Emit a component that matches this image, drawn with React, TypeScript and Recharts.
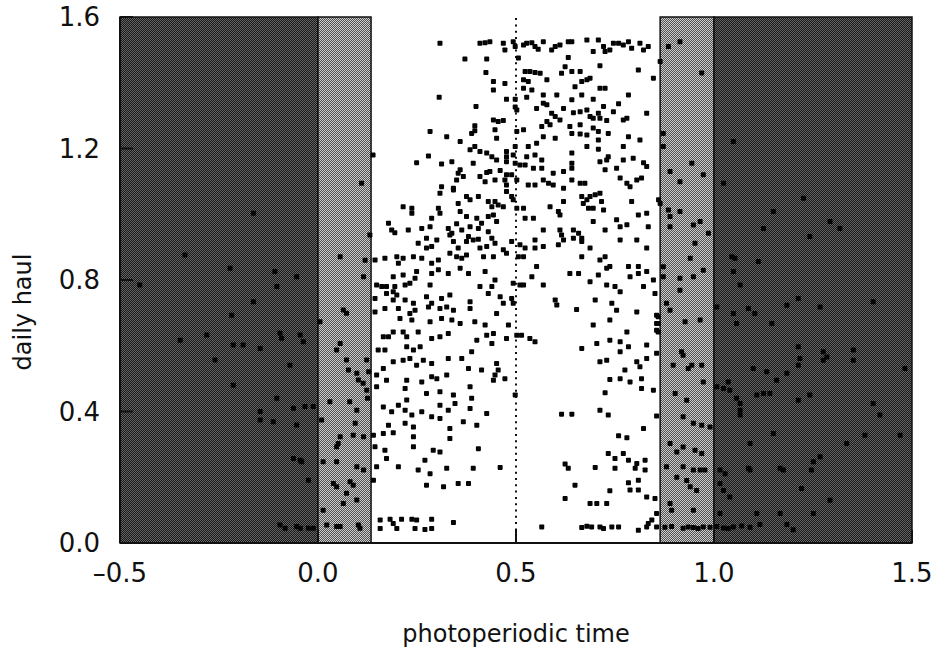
import {
  Label,
  ReferenceArea,
  ReferenceLine,
  Scatter,
  ScatterChart,
  XAxis,
  YAxis
} from "recharts";

type Pt = [number, number];

const xTicks = [-0.5, 0, 0.5, 1, 1.5];
const xTickLabels = ["–0.5", "0.0", "0.5", "1.0", "1.5"];
const yTicks = [0, 0.4, 0.8, 1.2, 1.6];
const yTickLabels = ["0.0", "0.4", "0.8", "1.2", "1.6"];

// light regime: night | twilight | day | twilight | night
const bandEdges = [-0.5, 0, 0.134, 0.864, 1.0, 1.5];
const bandKinds = ["night", "twilight", "day", "twilight", "night"];

const nightBefore: Pt[] = [
  [-0.163, 1.003], [-0.336, 0.876], [-0.222, 0.836], [-0.109, 0.826], [-0.054, 0.81],
  [-0.45, 0.785], [-0.104, 0.78], [-0.163, 0.734], [-0.218, 0.693], [-0.348, 0.617],
  [-0.281, 0.633], [-0.214, 0.602], [-0.189, 0.602], [-0.146, 0.592], [-0.096, 0.638],
  [-0.092, 0.623], [-0.045, 0.633], [-0.037, 0.612], [-0.26, 0.557], [-0.071, 0.541],
  [-0.214, 0.48], [-0.104, 0.44], [-0.146, 0.4], [-0.146, 0.374], [-0.062, 0.41],
  [-0.033, 0.415], [-0.012, 0.415], [-0.113, 0.369], [-0.054, 0.359], [-0.062, 0.257],
  [-0.045, 0.252], [-0.041, 0.247], [-0.024, 0.191], [-0.096, 0.055], [-0.083, 0.045],
  [-0.054, 0.05], [-0.045, 0.045], [-0.024, 0.045], [-0.012, 0.045]
];

const dawn: Pt[] = [
  [0.11, 1.094], [0.131, 0.937], [0.056, 0.871], [0.119, 0.86], [0.115, 0.81],
  [0.064, 0.709], [0.072, 0.699], [0.056, 0.607], [0.047, 0.587], [0.072, 0.557],
  [0.077, 0.526], [0.098, 0.516], [0.102, 0.496], [0.114, 0.486], [0.005, 0.673],
  [0.03, 0.43], [0.08, 0.43], [0.098, 0.404], [0.009, 0.374], [0.094, 0.364],
  [0.056, 0.323], [0.051, 0.303], [0.047, 0.293], [0.089, 0.328], [0.115, 0.323],
  [0.013, 0.247], [0.047, 0.247], [0.098, 0.232], [0.115, 0.222], [0.039, 0.181],
  [0.047, 0.171], [0.081, 0.186], [0.089, 0.176], [0.072, 0.151], [0.098, 0.131],
  [0.064, 0.12], [0.013, 0.1], [0.022, 0.055], [0.047, 0.05], [0.056, 0.05],
  [0.102, 0.055], [0.106, 0.045], [0.123, 0.557], [0.128, 0.521], [0.123, 0.465],
  [0.125, 0.44]
];

const day: Pt[] = [
  [0.139, 1.18],
  [0.308, 1.52], [0.409, 1.52], [0.422, 1.522], [0.434, 1.525], [0.468, 1.52],
  [0.472, 1.5], [0.493, 1.525], [0.498, 1.51], [0.519, 1.515], [0.527, 1.52],
  [0.54, 1.522], [0.548, 1.51], [0.556, 1.502], [0.569, 1.525], [0.59, 1.5],
  [0.599, 1.51], [0.611, 1.515], [0.632, 1.525], [0.641, 1.525], [0.679, 1.53],
  [0.695, 1.495], [0.708, 1.53], [0.721, 1.51], [0.725, 1.495], [0.737, 1.5],
  [0.746, 1.52], [0.759, 1.52], [0.771, 1.515], [0.784, 1.525], [0.792, 1.505],
  [0.813, 1.52], [0.822, 1.5], [0.834, 1.51],
  [0.371, 1.472], [0.426, 1.472], [0.506, 1.475], [0.632, 1.477],
  [0.712, 1.452], [0.809, 1.439], [0.847, 1.414], [0.523, 1.434], [0.535, 1.434],
  [0.548, 1.431], [0.561, 1.429], [0.615, 1.429], [0.624, 1.449], [0.641, 1.434],
  [0.662, 1.434], [0.424, 1.431],
  [0.443, 1.404], [0.472, 1.398], [0.519, 1.409], [0.531, 1.404], [0.578, 1.409],
  [0.649, 1.388], [0.666, 1.404], [0.687, 1.414], [0.679, 1.409], [0.712, 1.383],
  [0.725, 1.383], [0.443, 1.378], [0.519, 1.383], [0.54, 1.378],
  [0.306, 1.356], [0.476, 1.35], [0.498, 1.35], [0.527, 1.356], [0.569, 1.363],
  [0.603, 1.363], [0.641, 1.348], [0.666, 1.363], [0.695, 1.35], [0.784, 1.363],
  [0.399, 1.328], [0.498, 1.326], [0.502, 1.317], [0.552, 1.322], [0.569, 1.338],
  [0.578, 1.333], [0.59, 1.307], [0.62, 1.322], [0.645, 1.309], [0.662, 1.312],
  [0.679, 1.317], [0.708, 1.307], [0.721, 1.328], [0.746, 1.312], [0.759, 1.336],
  [0.83, 1.307],
  [0.396, 1.269], [0.443, 1.287], [0.455, 1.282], [0.468, 1.285], [0.599, 1.297],
  [0.578, 1.282], [0.586, 1.272], [0.565, 1.267], [0.611, 1.287], [0.687, 1.297],
  [0.695, 1.292], [0.712, 1.292], [0.771, 1.287], [0.78, 1.292], [0.662, 1.272],
  [0.729, 1.285],
  [0.283, 1.252], [0.325, 1.236], [0.359, 1.221], [0.388, 1.246], [0.396, 1.254],
  [0.447, 1.257], [0.451, 1.231], [0.502, 1.252], [0.519, 1.257], [0.569, 1.236],
  [0.599, 1.231], [0.641, 1.246], [0.662, 1.244], [0.679, 1.241], [0.695, 1.262],
  [0.708, 1.252], [0.708, 1.226], [0.733, 1.246], [0.784, 1.236], [0.813, 1.226],
  [0.636, 1.267],
  [0.279, 1.177], [0.249, 1.157], [0.384, 1.196], [0.396, 1.206], [0.409, 1.191],
  [0.426, 1.186], [0.439, 1.175], [0.451, 1.165], [0.476, 1.191], [0.476, 1.175],
  [0.493, 1.18], [0.498, 1.206], [0.531, 1.206], [0.552, 1.216], [0.527, 1.175],
  [0.548, 1.18], [0.565, 1.165], [0.641, 1.186], [0.679, 1.206], [0.708, 1.198],
  [0.733, 1.175], [0.771, 1.206], [0.796, 1.17], [0.822, 1.157], [0.83, 1.145],
  [0.312, 1.153], [0.338, 1.16], [0.392, 1.155], [0.476, 1.16], [0.498, 1.155],
  [0.51, 1.15], [0.523, 1.15], [0.544, 1.14], [0.565, 1.14], [0.594, 1.125],
  [0.62, 1.13], [0.641, 1.155], [0.641, 1.14], [0.712, 1.16], [0.729, 1.165],
  [0.725, 1.135], [0.754, 1.14], [0.771, 1.165], [0.359, 1.135], [0.354, 1.125],
  [0.426, 1.127], [0.434, 1.13], [0.46, 1.133], [0.476, 1.12], [0.489, 1.12],
  [0.312, 1.084], [0.35, 1.104], [0.342, 1.079], [0.367, 1.115], [0.409, 1.115],
  [0.422, 1.099], [0.447, 1.104], [0.472, 1.104], [0.476, 1.089], [0.502, 1.104],
  [0.531, 1.089], [0.548, 1.089], [0.569, 1.104], [0.582, 1.094], [0.594, 1.089],
  [0.62, 1.079], [0.641, 1.104], [0.662, 1.094], [0.674, 1.094], [0.763, 1.11],
  [0.78, 1.094], [0.805, 1.104], [0.817, 1.11], [0.788, 1.084],
  [0.308, 1.064], [0.342, 1.074], [0.375, 1.054], [0.384, 1.044], [0.405, 1.054],
  [0.43, 1.039], [0.447, 1.039], [0.476, 1.069], [0.489, 1.054], [0.493, 1.044],
  [0.354, 1.033], [0.439, 1.023], [0.455, 1.028], [0.468, 1.023], [0.502, 1.018],
  [0.519, 1.018], [0.586, 1.023], [0.607, 1.008], [0.62, 1.039], [0.666, 1.054],
  [0.679, 1.044], [0.687, 1.054], [0.7, 1.059], [0.712, 1.064], [0.67, 1.033],
  [0.716, 1.039], [0.792, 1.039], [0.86, 1.044],
  [0.215, 1.023], [0.237, 1.018], [0.237, 1.003], [0.304, 1.018], [0.308, 1.003],
  [0.359, 1.008], [0.375, 0.993], [0.401, 0.988], [0.43, 0.993], [0.443, 0.998],
  [0.451, 0.978], [0.523, 0.988], [0.544, 0.988], [0.611, 0.998], [0.683, 1.018],
  [0.695, 1.018], [0.721, 1.013], [0.754, 0.983], [0.809, 0.998], [0.83, 1.003],
  [0.287, 0.988],
  [0.178, 0.973], [0.186, 0.952], [0.194, 0.944], [0.228, 0.952], [0.262, 0.957],
  [0.283, 0.962], [0.329, 0.957], [0.338, 0.942], [0.35, 0.971], [0.363, 0.952],
  [0.384, 0.962], [0.405, 0.957], [0.413, 0.973], [0.43, 0.947], [0.569, 0.952],
  [0.611, 0.952], [0.615, 0.937], [0.645, 0.952], [0.658, 0.942], [0.695, 0.978],
  [0.725, 0.952], [0.763, 0.962], [0.78, 0.968], [0.834, 0.962], [0.274, 0.927],
  [0.3, 0.922], [0.333, 0.937], [0.38, 0.932], [0.392, 0.922], [0.405, 0.924],
  [0.439, 0.927], [0.447, 0.912],
  [0.253, 0.912], [0.274, 0.897], [0.287, 0.902], [0.342, 0.917], [0.354, 0.897],
  [0.375, 0.917], [0.409, 0.897], [0.426, 0.902], [0.468, 0.892], [0.476, 0.881],
  [0.489, 0.917], [0.51, 0.907], [0.523, 0.897], [0.548, 0.922], [0.548, 0.897],
  [0.569, 0.902], [0.607, 0.907], [0.62, 0.922], [0.645, 0.927], [0.666, 0.927],
  [0.666, 0.917], [0.687, 0.897], [0.763, 0.922], [0.805, 0.922], [0.83, 0.897],
  [0.144, 0.861], [0.169, 0.866], [0.199, 0.871], [0.203, 0.851], [0.215, 0.866],
  [0.241, 0.871], [0.262, 0.866], [0.287, 0.851], [0.304, 0.861], [0.333, 0.881],
  [0.35, 0.871], [0.363, 0.866], [0.375, 0.876], [0.418, 0.871], [0.443, 0.871],
  [0.506, 0.871], [0.519, 0.871], [0.552, 0.841], [0.666, 0.871], [0.712, 0.861],
  [0.725, 0.871], [0.737, 0.841], [0.784, 0.841], [0.809, 0.841],
  [0.19, 0.81], [0.215, 0.815], [0.245, 0.805], [0.249, 0.826], [0.287, 0.82],
  [0.304, 0.831], [0.329, 0.82], [0.359, 0.836], [0.38, 0.82], [0.422, 0.826],
  [0.447, 0.8], [0.51, 0.785], [0.519, 0.785], [0.54, 0.81], [0.569, 0.785],
  [0.636, 0.82], [0.658, 0.82], [0.687, 0.795], [0.708, 0.815], [0.729, 0.836],
  [0.788, 0.81], [0.809, 0.82], [0.83, 0.826], [0.847, 0.8], [0.148, 0.785],
  [0.161, 0.78], [0.173, 0.78], [0.194, 0.78], [0.22, 0.785], [0.232, 0.79],
  [0.283, 0.785], [0.409, 0.78], [0.439, 0.78], [0.493, 0.79], [0.729, 0.785],
  [0.75, 0.78], [0.822, 0.78],
  [0.19, 0.764], [0.199, 0.754], [0.763, 0.764], [0.144, 0.744], [0.173, 0.759],
  [0.22, 0.739], [0.19, 0.739], [0.241, 0.729], [0.274, 0.749], [0.287, 0.729],
  [0.312, 0.744], [0.333, 0.754], [0.384, 0.734], [0.43, 0.759], [0.46, 0.749],
  [0.489, 0.744], [0.493, 0.729], [0.468, 0.729], [0.599, 0.739], [0.603, 0.724],
  [0.7, 0.739], [0.742, 0.729], [0.754, 0.708], [0.805, 0.703], [0.851, 0.759],
  [0.144, 0.703], [0.169, 0.713], [0.203, 0.713], [0.232, 0.698], [0.245, 0.708],
  [0.279, 0.718], [0.308, 0.713], [0.325, 0.718], [0.342, 0.708], [0.384, 0.713],
  [0.451, 0.698], [0.653, 0.71],
  [0.207, 0.683], [0.237, 0.678], [0.283, 0.673], [0.312, 0.683], [0.338, 0.678],
  [0.359, 0.668], [0.396, 0.673], [0.422, 0.663], [0.426, 0.632], [0.443, 0.637],
  [0.481, 0.663], [0.502, 0.632], [0.514, 0.632], [0.535, 0.622], [0.548, 0.612],
  [0.476, 0.622], [0.695, 0.663], [0.737, 0.678], [0.855, 0.693], [0.855, 0.668],
  [0.855, 0.647], [0.78, 0.642], [0.165, 0.627], [0.178, 0.627], [0.19, 0.642],
  [0.215, 0.642], [0.224, 0.627], [0.253, 0.642], [0.287, 0.622], [0.308, 0.627],
  [0.329, 0.637], [0.401, 0.617], [0.439, 0.607],
  [0.152, 0.587], [0.169, 0.587], [0.224, 0.597], [0.241, 0.587], [0.258, 0.597],
  [0.388, 0.582], [0.363, 0.561], [0.666, 0.592], [0.704, 0.607], [0.737, 0.617],
  [0.763, 0.612], [0.763, 0.582], [0.784, 0.597], [0.83, 0.602], [0.19, 0.551],
  [0.215, 0.556], [0.232, 0.561], [0.249, 0.541], [0.266, 0.556], [0.287, 0.546],
  [0.329, 0.561], [0.38, 0.531], [0.413, 0.526], [0.451, 0.546], [0.455, 0.526],
  [0.712, 0.551], [0.729, 0.556], [0.775, 0.526], [0.805, 0.551], [0.813, 0.536],
  [0.83, 0.561], [0.855, 0.577], [0.165, 0.531], [0.148, 0.511], [0.173, 0.495],
  [0.224, 0.495], [0.262, 0.49], [0.287, 0.506], [0.3, 0.5], [0.325, 0.511],
  [0.384, 0.475], [0.443, 0.495], [0.472, 0.5], [0.447, 0.511], [0.737, 0.497],
  [0.763, 0.5], [0.788, 0.49], [0.817, 0.5], [0.817, 0.47], [0.847, 0.465],
  [0.148, 0.475], [0.22, 0.47], [0.274, 0.455], [0.308, 0.46], [0.342, 0.45],
  [0.388, 0.44], [0.498, 0.45], [0.725, 0.457], [0.224, 0.435], [0.346, 0.424],
  [0.165, 0.414], [0.186, 0.399], [0.203, 0.419], [0.22, 0.404], [0.237, 0.389],
  [0.262, 0.399], [0.287, 0.384], [0.308, 0.419], [0.329, 0.404], [0.384, 0.409],
  [0.426, 0.394], [0.615, 0.392], [0.641, 0.392], [0.712, 0.404], [0.733, 0.389],
  [0.855, 0.386],
  [0.14, 0.328], [0.165, 0.333], [0.178, 0.358], [0.19, 0.335], [0.22, 0.364],
  [0.241, 0.353], [0.241, 0.323], [0.308, 0.379], [0.333, 0.348], [0.333, 0.318],
  [0.367, 0.369], [0.401, 0.358], [0.759, 0.326], [0.78, 0.32], [0.822, 0.348],
  [0.144, 0.293], [0.169, 0.282], [0.241, 0.293], [0.291, 0.282], [0.308, 0.277],
  [0.405, 0.287],
  [0.148, 0.232], [0.173, 0.257], [0.203, 0.232], [0.253, 0.222], [0.27, 0.252],
  [0.283, 0.211], [0.325, 0.227], [0.392, 0.227], [0.46, 0.23], [0.624, 0.24],
  [0.632, 0.227], [0.7, 0.23], [0.733, 0.272], [0.75, 0.257], [0.75, 0.227],
  [0.771, 0.272], [0.784, 0.252], [0.805, 0.242], [0.826, 0.252], [0.801, 0.227],
  [0.826, 0.222], [0.14, 0.191],
  [0.274, 0.176], [0.317, 0.171], [0.354, 0.181], [0.38, 0.181], [0.649, 0.176],
  [0.737, 0.159], [0.784, 0.183], [0.809, 0.191], [0.809, 0.161], [0.788, 0.161],
  [0.83, 0.14], [0.851, 0.135], [0.624, 0.135], [0.687, 0.12], [0.704, 0.12],
  [0.729, 0.12], [0.855, 0.09],
  [0.157, 0.07], [0.182, 0.072], [0.19, 0.059], [0.199, 0.044], [0.211, 0.072],
  [0.237, 0.072], [0.249, 0.07], [0.287, 0.072], [0.157, 0.044], [0.245, 0.044],
  [0.27, 0.041], [0.287, 0.044], [0.342, 0.062], [0.565, 0.049], [0.666, 0.047],
  [0.679, 0.051], [0.691, 0.049], [0.712, 0.049], [0.721, 0.044], [0.742, 0.049],
  [0.759, 0.049], [0.809, 0.039], [0.83, 0.049], [0.834, 0.059], [0.843, 0.07],
  [0.855, 0.049]
];

const dusk: Pt[] = [
  [0.914, 1.525], [0.885, 1.51], [0.969, 1.43], [0.864, 1.465], [0.872, 1.246],
  [0.872, 1.206], [0.944, 1.155], [0.889, 1.13], [0.914, 1.099], [0.973, 1.12],
  [0.864, 1.033], [0.885, 1.013], [0.889, 0.993], [0.889, 0.962], [0.914, 1.008],
  [0.948, 0.967], [0.965, 0.978], [0.986, 0.942], [0.952, 0.912], [0.94, 0.866],
  [0.872, 0.81], [0.914, 0.805], [0.948, 0.81], [0.973, 0.83], [0.872, 0.84],
  [0.914, 0.769], [0.88, 0.729], [0.889, 0.708], [0.859, 0.688], [0.859, 0.668],
  [0.859, 0.642], [0.927, 0.673], [0.965, 0.678], [0.918, 0.582], [0.922, 0.571],
  [0.897, 0.541], [0.935, 0.531], [0.944, 0.541], [0.969, 0.541], [0.973, 0.49],
  [0.902, 0.455], [0.931, 0.434], [0.922, 0.384], [0.948, 0.364], [0.969, 0.358],
  [0.99, 0.353], [0.889, 0.303], [0.906, 0.277], [0.922, 0.292], [0.952, 0.282],
  [0.969, 0.272], [0.88, 0.232], [0.922, 0.232], [0.948, 0.222], [0.965, 0.222],
  [0.977, 0.222], [0.906, 0.2], [0.931, 0.19], [0.94, 0.171], [0.956, 0.16],
  [0.889, 0.12], [0.893, 0.1], [0.948, 0.1], [0.876, 0.048], [0.893, 0.05],
  [0.922, 0.045], [0.935, 0.049], [0.948, 0.047], [0.96, 0.044], [0.973, 0.049],
  [0.99, 0.048]
];

const nightAfter: Pt[] = [
  [1.049, 1.221], [1.024, 1.094], [1.226, 1.049], [1.15, 1.008], [1.125, 0.957],
  [1.242, 0.932], [1.293, 0.978], [1.318, 0.957], [1.045, 0.871], [1.053, 0.866],
  [1.112, 0.856], [1.049, 0.826], [1.066, 0.785],
  [1.007, 0.718], [1.049, 0.698], [1.087, 0.713], [1.103, 0.698], [1.057, 0.668],
  [1.146, 0.668], [1.184, 0.723], [1.213, 0.744], [1.268, 0.718], [1.402, 0.734],
  [1.213, 0.597], [1.217, 0.561], [1.213, 0.541], [1.276, 0.582], [1.276, 0.556],
  [1.285, 0.566], [1.352, 0.587], [1.352, 0.556], [1.099, 0.531], [1.133, 0.521],
  [1.158, 0.495], [1.184, 0.516], [1.007, 0.475], [1.024, 0.47], [1.04, 0.465],
  [1.036, 0.49], [1.057, 0.44], [1.066, 0.424], [1.108, 0.45], [1.125, 0.455],
  [1.141, 0.455], [1.213, 0.434], [1.242, 0.45], [1.402, 0.424], [1.419, 0.389],
  [1.482, 0.531], [1.066, 0.404], [1.066, 0.389], [1.15, 0.333], [1.335, 0.303],
  [1.381, 0.328], [1.47, 0.328], [1.091, 0.303], [1.015, 0.222], [1.028, 0.211],
  [1.087, 0.227], [1.091, 0.222], [1.167, 0.227], [1.175, 0.222], [1.246, 0.222],
  [1.251, 0.247], [1.268, 0.262], [1.221, 0.166], [1.293, 0.13], [1.015, 0.181],
  [1.024, 0.16], [1.04, 0.14], [1.108, 0.09], [1.167, 0.09], [1.251, 0.09],
  [1.015, 0.09], [1.007, 0.05], [1.024, 0.046], [1.036, 0.044], [1.049, 0.049],
  [1.07, 0.052], [1.091, 0.048], [1.116, 0.056], [1.184, 0.056], [1.2, 0.04]
];

const hauls = [...nightBefore, ...dawn, ...day, ...dusk, ...nightAfter].map(
  ([x, y]) => ({ x, y })
);

const bands = bandKinds
  .map((kind, i) => ({ kind, x1: bandEdges[i], x2: bandEdges[i + 1] }))
  .filter((b) => b.kind !== "day");

const ink = "#111";
const font = "'DejaVu Sans', Verdana, sans-serif";
const TICK = 13;

const fmtX = (v: number) => xTickLabels[xTicks.indexOf(v)] ?? String(v);
const fmtY = (v: number) => yTickLabels[yTicks.indexOf(v)] ?? String(v);

function Square(props: any) {
  const { cx, cy } = props;
  if (cx == null || cy == null) return null;
  return <rect x={cx - 2.5} y={cy - 2.5} width={5} height={5} rx={0.8} fill="#050505" />;
}

// inward tick marks drawn from the axis position recharts hands to the tick
function BottomTick({ x, y, payload }: any) {
  return (
    <g>
      <line x1={x} x2={x} y1={y} y2={y - TICK} stroke={ink} strokeWidth={2} />
      <text x={x} y={y + 39} textAnchor="middle" fontFamily={font} fontSize={26} fill={ink}>
        {fmtX(payload.value)}
      </text>
    </g>
  );
}

function TopTick({ x, y }: any) {
  return <line x1={x} x2={x} y1={y} y2={y + TICK} stroke={ink} strokeWidth={2} />;
}

function LeftTick({ x, y, payload }: any) {
  return (
    <g>
      <line x1={x} x2={x + TICK} y1={y} y2={y} stroke={ink} strokeWidth={2} />
      <text x={x - 20} y={y + 9} textAnchor="end" fontFamily={font} fontSize={26} fill={ink}>
        {fmtY(payload.value)}
      </text>
    </g>
  );
}

function RightTick({ x, y }: any) {
  return <line x1={x} x2={x - TICK} y1={y} y2={y} stroke={ink} strokeWidth={2} />;
}

function XTitle(props: any) {
  const vb = props.viewBox;
  return (
    <text x={vb.x + vb.width / 2} y={vb.y + 99} textAnchor="middle" fontFamily={font} fontSize={24} fill={ink}>
      photoperiodic time
    </text>
  );
}

function YTitle(props: any) {
  const vb = props.viewBox;
  const x = vb.x + 31;
  const y = 312;
  return (
    <text x={x} y={y} transform={`rotate(-90, ${x}, ${y})`} textAnchor="middle" fontFamily={font} fontSize={24} fill={ink}>
      daily haul
    </text>
  );
}

export default function App() {
  const frame = { stroke: ink, strokeWidth: 2 };
  return (
    <div style={{ position: "absolute", left: 0, top: 0, width: 934, height: 649, background: "#fff" }}>
      <ScatterChart width={934} height={649} margin={{ top: 17, right: 22, bottom: 0, left: 0 }}>
        <defs>
          <pattern id="night" width="2" height="2" patternUnits="userSpaceOnUse">
            <rect width="2" height="2" fill="#191919" />
            <rect x="0" y="0" width="1" height="1" fill="#646464" />
            <rect x="1" y="1" width="1" height="1" fill="#646464" />
          </pattern>
          <pattern id="twilight" width="2" height="2" patternUnits="userSpaceOnUse">
            <rect width="2" height="2" fill="#525252" />
            <rect x="0" y="0" width="1" height="1" fill="#cccccc" />
            <rect x="1" y="1" width="1" height="1" fill="#cccccc" />
          </pattern>
        </defs>
        {bands.map((b) => (
          <ReferenceArea
            key={b.x1}
            x1={b.x1}
            x2={b.x2}
            y1={0}
            y2={1.6}
            fill={`url(#${b.kind})`}
            fillOpacity={1}
            stroke={ink}
            strokeWidth={1.5}
          />
        ))}
        <ReferenceLine x={0.5} stroke={ink} strokeWidth={2} strokeDasharray="2 4.3" />
        <XAxis
          type="number"
          dataKey="x"
          domain={[-0.5, 1.5]}
          allowDataOverflow
          ticks={xTicks}
          interval={0}
          tick={BottomTick}
          tickSize={0}
          tickMargin={0}
          tickLine={false}
          axisLine={frame}
          height={106}
        >
          <Label content={XTitle} />
        </XAxis>
        <XAxis
          xAxisId="top"
          orientation="top"
          type="number"
          domain={[-0.5, 1.5]}
          allowDataOverflow
          ticks={xTicks}
          interval={0}
          tick={TopTick}
          tickSize={0}
          tickMargin={0}
          tickLine={false}
          axisLine={frame}
          height={0}
        />
        <YAxis
          type="number"
          dataKey="y"
          domain={[0, 1.6]}
          allowDataOverflow
          ticks={yTicks}
          interval={0}
          tick={LeftTick}
          tickSize={0}
          tickMargin={0}
          tickLine={false}
          axisLine={frame}
          width={120}
        >
          <Label content={YTitle} />
        </YAxis>
        <YAxis
          yAxisId="right"
          orientation="right"
          type="number"
          domain={[0, 1.6]}
          allowDataOverflow
          ticks={yTicks}
          interval={0}
          tick={RightTick}
          tickSize={0}
          tickMargin={0}
          tickLine={false}
          axisLine={frame}
          width={0}
        />
        <Scatter data={hauls} shape={Square} isAnimationActive={false} />
      </ScatterChart>
    </div>
  );
}
